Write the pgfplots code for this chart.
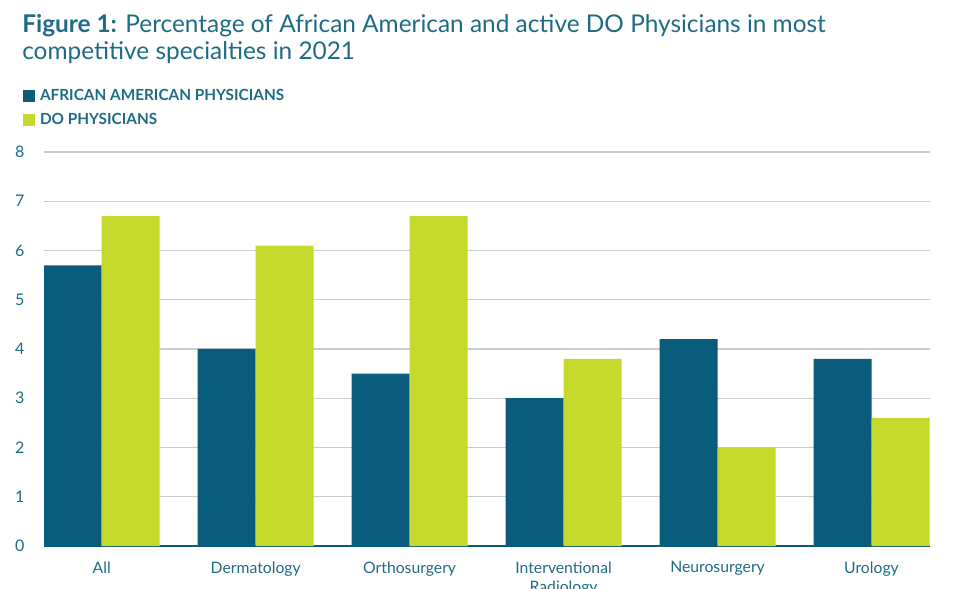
\documentclass[border=0pt]{standalone}
\usepackage{pgfplots}
\pgfplotsset{compat=1.18}
\usepackage{fontspec}
\setmainfont{Lato}
\definecolor{aa}{HTML}{0A5C7C}
\definecolor{dophy}{HTML}{C5D92D}
\definecolor{txt}{HTML}{1F6B86}
\definecolor{gridc}{HTML}{C9CDCF}
\begin{document}
\begin{tikzpicture}
\useasboundingbox (0pt,0pt) rectangle (735pt,441pt);
\node[anchor=base west, inner sep=0pt, text=txt, font=\fontsize{18.3}{21}\selectfont] at (16.5pt,416.25pt) {\textbf{Figure 1:} Percentage of African American and active DO Physicians in most};
\node[anchor=base west, inner sep=0pt, text=txt, font=\fontsize{18.3}{21}\selectfont] at (16.5pt,396pt) {competitive specialties in 2021};
\begin{axis}[
  at={(33pt,31.5pt)}, anchor=south west,
  scale only axis, width=664.5pt, height=295.5pt,
  ybar=0pt, bar width=43.5pt,
  xmin=-0.375, xmax=5.38, ymin=0, ymax=8,
  ytick={0,1,...,8},
  xtick=data,
  xticklabels={All,Dermatology,Orthosurgery,{Interventional\\Radiology},Neurosurgery,Urology},
  xticklabel style={align=center, text=txt, font=\fontsize{11.8}{14.5}\selectfont, yshift=-6pt},
  yticklabel style={text=txt, font=\fontsize{12}{14}\selectfont, xshift=-9pt},
  /pgf/number format/assume math mode=true,
  ymajorgrids, grid style={gridc, line width=0.9pt},
  axis x line=bottom, axis y line=left,
  x axis line style={-, draw=aa, line width=1.4pt},
  y axis line style={draw=none},
  tick style={draw=none},
  legend style={at={(axis description cs:-0.0236,1.167)}, anchor=north west, draw=none, fill=none,
    font=\bfseries\fontsize{11.5}{13.5}\selectfont, text=txt, row sep=4.5pt,
    cells={anchor=west}, inner sep=0pt},
  legend image code/.code={\fill[#1] (0pt,-4.5pt) rectangle (9pt,4.5pt); \path (9pt,0pt) -- (10.5pt,0pt);},
  legend cell align=left,
]
\addplot[fill=aa, draw=none] coordinates {(0,5.7) (1,4.0) (2,3.5) (3,3.0) (4,4.2) (5,3.8)};
\addplot[fill=dophy, draw=none] coordinates {(0,6.7) (1,6.1) (2,6.7) (3,3.8) (4,2.0) (5,2.6)};
\legend{AFRICAN AMERICAN PHYSICIANS, DO PHYSICIANS}
\end{axis}
\end{tikzpicture}
\end{document}
